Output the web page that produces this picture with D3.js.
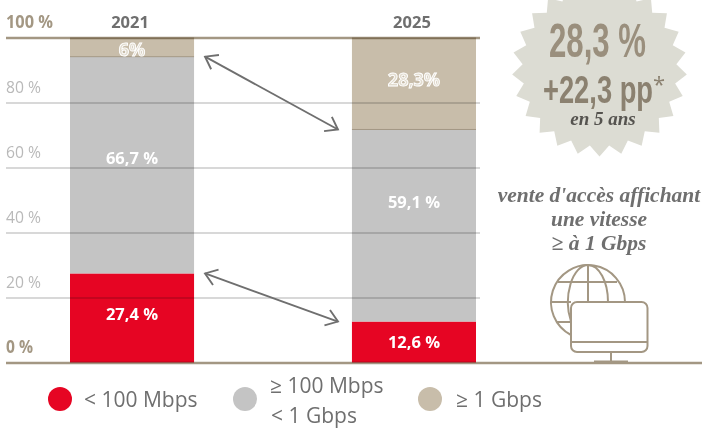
<!DOCTYPE html>
<html>
<head>
<meta charset="utf-8">
<script src="https://cdn.jsdelivr.net/npm/d3@7/dist/d3.min.js"></script>
<style>
  html, body { margin: 0; padding: 0; background: #fff; }
  svg { display: block; }
  text { font-family: "Open Sans", sans-serif; }
  .axis .domain { display: none; }
</style>
</head>
<body>
<svg id="chart" width="702" height="428"></svg>
<script>
// data
var years = ['2021', '2025'];
var speedKeys = ['low', 'mid', 'high'];
var lowValues = [27.4, 12.6];
var midValues = [66.7, 59.1];
var highValues = [6, 28.3];
var highLabels = ['6%', '28,3%'];
var midLabels = ['66,7 %', '59,1 %'];
var lowLabels = ['27,4 %', '12,6 %'];
var tickValues = [0, 20, 40, 60, 80, 100];
var badgeLines = ['28,3 %', '+22,3 pp', 'en 5 ans'];
var captionLines = ["vente d'accès affichant", 'une vitesse', '≥ à 1 Gbps'];

var colors = { low: '#e60523', mid: '#c4c4c4', high: '#c8bdaa' };
var axisColor = '#a39783';
var textColor = '#6f6f6f';

var svg = d3.select('#chart');

var rows = years.map(function (y, i) {
    return { year: y, low: lowValues[i], mid: midValues[i], high: highValues[i] };
});

var xScale = d3.scaleBand().domain(years).range([70, 476]).paddingInner(0.56);
var yScale = d3.scaleLinear().domain([0, 100]).range([362.5, 37.5]);

var stacked = d3.stack().keys(speedKeys)(rows);

// bars, the last segment stops at the 100 % rule
svg.append('g').selectAll('g')
    .data(stacked)
    .join('g')
    .attr('fill', function (d) { return colors[d.key]; })
    .selectAll('rect')
    .data(function (d) { return d; })
    .join('rect')
    .attr('x', function (d) { return xScale(d.data.year); })
    .attr('width', xScale.bandwidth())
    .attr('y', function (d) { return yScale(Math.min(d[1], 100)); })
    .attr('height', function (d) { return yScale(d[0]) - yScale(Math.min(d[1], 100)); });

// thin rule on the beige segment's lower edge
svg.append('g').selectAll('line')
    .data(stacked[1])
    .join('line')
    .attr('x1', function (d) { return xScale(d.data.year); })
    .attr('x2', function (d) { return xScale(d.data.year) + xScale.bandwidth(); })
    .attr('y1', function (d) { return yScale(d[1]); })
    .attr('y2', function (d) { return yScale(d[1]); })
    .attr('stroke', axisColor)
    .attr('stroke-width', 1);

// grid and tick labels
var axisLeft = d3.axisRight(yScale)
    .tickValues(tickValues)
    .tickSize(696)
    .tickFormat(function (d) { return d + ' %'; });

var axisG = svg.append('g')
    .attr('class', 'axis')
    .attr('transform', 'translate(6, 0)')
    .call(axisLeft);

axisG.selectAll('.tick line')
    .attr('stroke', function (d) { return d === 0 || d === 100 ? axisColor : '#cbcbcb'; })
    .attr('stroke-width', function (d) { return d === 0 || d === 100 ? 2.5 : 1.5; })
    .attr('x2', function (d) { return d === 0 ? 696 : 474; })
    .style('mix-blend-mode', 'multiply');

axisG.selectAll('.tick text')
    .attr('x', 0)
    .attr('dy', '-10.5')
    .attr('text-anchor', 'start')
    .attr('fill', function (d) { return d === 0 || d === 100 ? axisColor : '#b9b9b9'; })
    .style('font-family', '"Open Sans", sans-serif')
    .style('font-size', '17px')
    .style('font-weight', function (d) { return d === 0 || d === 100 ? 700 : 400; })
    .attr('textLength', function (d) { return d === 100 ? 47 : (d === 0 ? 27 : 35); })
    .attr('lengthAdjust', 'spacingAndGlyphs');

// year labels
svg.append('g').selectAll('text')
    .data(years)
    .join('text')
    .attr('x', function (d) { return xScale(d) + xScale.bandwidth() / 2 - 2; })
    .attr('y', 28)
    .attr('text-anchor', 'middle')
    .attr('fill', textColor)
    .style('font-size', '16.5px')
    .style('font-weight', 700)
    .text(function (d) { return d; });

// value labels, the source does not centre them in their segments
var lowShift = [-4, 0];
var midShift = [-7, -24];
var highShift = [3, -3];

function valueLabels(serie, labels, shift, outlined) {
    svg.append('g').selectAll('text')
        .data(serie)
        .join('text')
        .attr('x', function (d) { return xScale(d.data.year) + xScale.bandwidth() / 2; })
        .attr('y', function (d, i) { return yScale((d[0] + Math.min(d[1], 100)) / 2) + 6 + shift[i]; })
        .attr('text-anchor', 'middle')
        .attr('fill', outlined ? '#e2dccf' : '#fff')
        .attr('stroke', outlined ? '#fff' : 'none')
        .attr('stroke-width', outlined ? 0.9 : 0)
        .style('font-size', outlined ? '18px' : '16.5px')
        .style('font-weight', 700)
        .text(function (d, i) { return labels[i]; });
}
valueLabels(stacked[0], lowLabels, lowShift, false);
valueLabels(stacked[1], midLabels, midShift, false);
valueLabels(stacked[2], highLabels, highShift, true);

// arrows between the two bars
function doubleArrow(key) {
    var y0 = yScale(d3.sum(speedKeys.slice(0, speedKeys.indexOf(key) + 1), function (k) { return rows[0][k]; }));
    var y1 = yScale(d3.sum(speedKeys.slice(0, speedKeys.indexOf(key) + 1), function (k) { return rows[1][k]; }));
    var x0 = xScale(years[0]) + xScale.bandwidth() + 11;
    var x1 = xScale(years[1]) - 14;
    var a = Math.atan2(y1 - y0, x1 - x0);
    var head = 14, spread = 0.62;
    var g = svg.append('g')
        .attr('fill', 'none')
        .attr('stroke', textColor)
        .attr('stroke-width', 1.9);
    g.append('line').attr('x1', x0).attr('y1', y0).attr('x2', x1).attr('y2', y1);
    g.append('path').attr('d', d3.line()([
        [x0 + head * Math.cos(a - spread), y0 + head * Math.sin(a - spread)],
        [x0, y0],
        [x0 + head * Math.cos(a + spread), y0 + head * Math.sin(a + spread)]
    ]));
    g.append('path').attr('d', d3.line()([
        [x1 - head * Math.cos(a - spread), y1 - head * Math.sin(a - spread)],
        [x1, y1],
        [x1 - head * Math.cos(a + spread), y1 - head * Math.sin(a + spread)]
    ]));
}
doubleArrow('mid');
doubleArrow('low');

// starburst badge
var starPoints = d3.range(50).map(function (i) {
    var a = i / 50 * 2 * Math.PI;
    var r = i % 2 === 0 ? 87.5 : 77;
    return [599.5 + r * Math.sin(a), 69 + r * Math.cos(a)];
});
svg.append('path')
    .attr('d', d3.line().curve(d3.curveLinearClosed)(starPoints))
    .attr('fill', '#dcdcd3');

function narrowText(x, y, size, len, fill, str) {
    return svg.append('text')
        .attr('x', x).attr('y', y)
        .attr('text-anchor', 'middle')
        .attr('fill', fill)
        .attr('textLength', len)
        .attr('lengthAdjust', 'spacingAndGlyphs')
        .style('font-family', '"Liberation Sans Narrow", "Liberation Sans", sans-serif')
        .style('font-weight', 700)
        .style('font-size', size + 'px')
        .text(str);
}
narrowText(597.5, 57, 49, 97, '#9a8f7d', badgeLines[0]);
narrowText(598, 103, 39, 110, '#8b8170', badgeLines[1]);
svg.append('text')
    .attr('x', 659).attr('y', 92)
    .attr('text-anchor', 'middle')
    .attr('fill', '#8b8170')
    .style('font-size', '22px')
    .text('*');
svg.append('text')
    .attr('x', 603).attr('y', 125)
    .attr('text-anchor', 'middle')
    .attr('fill', '#55534f')
    .style('font-family', '"Liberation Serif", serif')
    .style('font-style', 'italic')
    .style('font-weight', 700)
    .style('font-size', '19px')
    .text(badgeLines[2]);

// caption
svg.append('g').selectAll('text')
    .data(captionLines)
    .join('text')
    .attr('x', 599)
    .attr('y', function (d, i) { return 202 + i * 24; })
    .attr('text-anchor', 'middle')
    .attr('fill', textColor)
    .style('font-family', '"Liberation Serif", serif')
    .style('font-style', 'italic')
    .style('font-weight', 700)
    .style('font-size', '21.5px')
    .text(function (d) { return d; });

// globe and screen icon
var icon = svg.append('g')
    .attr('fill', 'none')
    .attr('stroke', axisColor)
    .attr('stroke-width', 2);
icon.append('path').attr('d', 'M 571 335 A 37 37 0 1 1 625 302');
icon.append('path').attr('d', 'M 571 321.5 A 20 37 0 0 1 588 265 A 20 37 0 0 1 608 302');
icon.append('path').attr('d', 'M 588 265 L 588 302');
icon.append('path').attr('d', 'M 558 282 L 617 282');
icon.append('path').attr('d', 'M 551 302 L 571 302');
icon.append('path').attr('d', 'M 557 322 L 571 322');
icon.append('rect').attr('x', 571).attr('y', 302).attr('width', 76.5).attr('height', 50).attr('rx', 6).attr('fill', '#fff');
icon.append('path').attr('d', 'M 571 342 L 647.5 342');
icon.append('path').attr('d', 'M 611 352 L 611 362');
icon.append('path').attr('d', 'M 594 361.5 L 628 361.5');

// legend
var legendMarks = [
    { key: 'low', cx: 60 },
    { key: 'mid', cx: 245 },
    { key: 'high', cx: 430 }
];
svg.append('g').selectAll('circle')
    .data(legendMarks)
    .join('circle')
    .attr('cx', function (d) { return d.cx; })
    .attr('cy', 399)
    .attr('r', 12)
    .attr('fill', function (d) { return colors[d.key]; });

var legendLabels = [
    { text: '< 100 Mbps', x: 84, y: 407 },
    { text: '≥ 100 Mbps', x: 270, y: 393 },
    { text: '< 1 Gbps', x: 271, y: 423 },
    { text: '≥ 1 Gbps', x: 456, y: 407 }
];
svg.append('g').selectAll('text')
    .data(legendLabels)
    .join('text')
    .attr('x', function (d) { return d.x; })
    .attr('y', function (d) { return d.y; })
    .attr('fill', textColor)
    .style('font-size', '21px')
    .text(function (d) { return d.text; });
</script>
</body>
</html>
